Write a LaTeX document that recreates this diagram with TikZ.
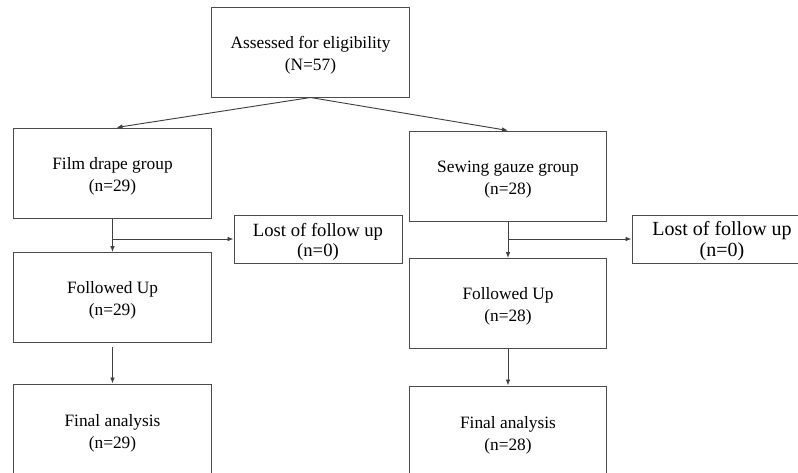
\documentclass[tikz,border=0pt]{standalone}
\usepackage{fontspec}
\setmainfont{Liberation Serif}
\usetikzlibrary{arrows.meta}

\begin{document}
\begin{tikzpicture}[x=0.75pt,y=-0.75pt,
box/.style={draw=black!70,line width=0.75pt,align=center,inner sep=0pt,text height=29.9pt,minimum width=148pt,minimum height=67.5pt,font=\fontsize{13}{16.5}\selectfont},
lostbox/.style={box,minimum width=126pt,minimum height=36pt,font=\fontsize{14}{15}\selectfont},
arr/.style={draw=black!75,line width=0.7pt,-{Latex[length=4.5pt,width=3.5pt]}}]

\useasboundingbox (0,0) rectangle (798,472);

\node[box] (elig) at (310.5,52) {Assessed for eligibility\\(N=57)};
\node[box] (film) at (112.5,173) {Film drape group\\(n=29)};
\node[box] (sew) at (508,176) {Sewing gauze group\\(n=28)};
\node[lostbox] (lostL) at (318,239) {Lost of follow up\\(n=0)};
\node[lostbox,minimum width=135pt,font=\fontsize{15}{16}\selectfont] (lostR) at (722,239) {Lost of follow up\\(n=0)};
\node[box] (folL) at (112.5,297.5) {Followed Up\\(n=29)};
\node[box] (folR) at (508,303.5) {Followed Up\\(n=28)};
\node[box,minimum height=69pt] (finL) at (112.5,430) {Final analysis\\(n=29)};
\node[box,minimum height=69pt] (finR) at (508,432) {Final analysis\\(n=28)};

\draw[arr] (elig.south) -- ([xshift=3pt]film.north);
\draw[arr] (elig.south) -- (sew.north);
\draw[arr] (film.south) -- (folL.north);
\draw[arr] (film.south |- lostL.west) -- (lostL.west);
\draw[arr] (sew.south) -- (folR.north);
\draw[arr] (sew.south |- lostR.west) -- (lostR.west);
\draw[arr,shorten <=3pt] (folL.south) -- (finL.north);
\draw[arr] (folR.south) -- (finR.north);

\end{tikzpicture}
\end{document}
